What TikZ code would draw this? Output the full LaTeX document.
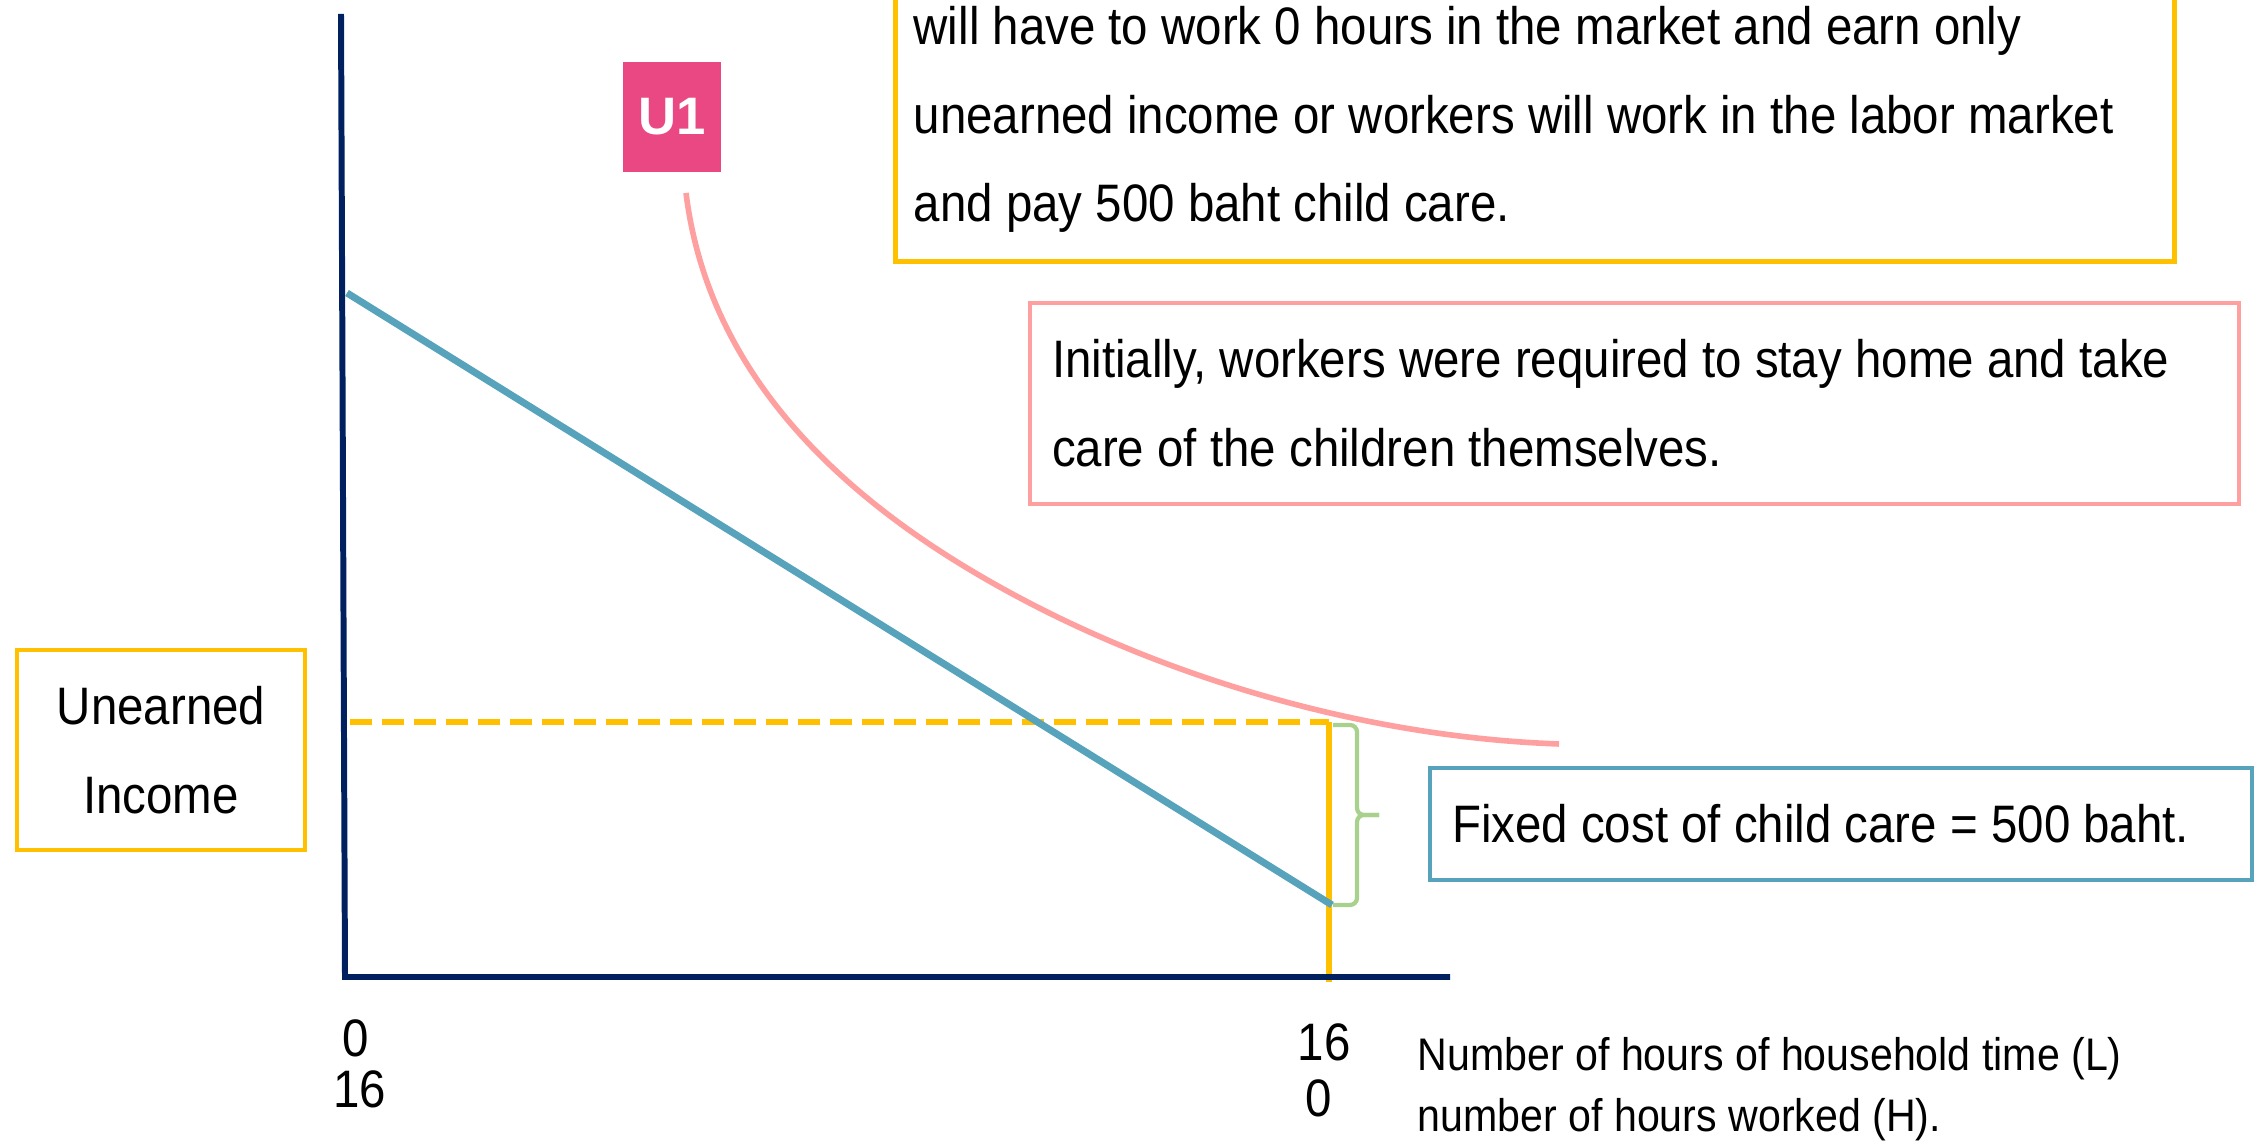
\documentclass[tikz,border=0pt]{standalone}
\usepackage{fontspec}
\setmainfont{Liberation Sans}[FakeStretch=0.9]
\newfontfamily\uonefont{Liberation Sans}
\usetikzlibrary{positioning}

\definecolor{axisnavy}{HTML}{002060}
\definecolor{budgetblue}{HTML}{57A3BC}
\definecolor{careorange}{HTML}{FFC000}
\definecolor{curvepink}{HTML}{FFA0A0}
\definecolor{tagpink}{HTML}{EA4882}
\definecolor{bracegreen}{HTML}{A9D18E}

\begin{document}
\begin{tikzpicture}
\tikzset{
  notetext/.style={font=\fontsize{15}{25.3}\selectfont, align=left, inner sep=0pt,
    execute at begin node={\spaceskip=0pt\relax}},
  note/.style={notetext, draw=#1, line width=1.4pt, inner xsep=0.22cm, inner ysep=0pt},
  ticklabel/.style={font=\fontsize{15}{18}\selectfont, inner sep=0pt, anchor=base},
  axis/.style={axisnavy, line width=1.7pt},
  budget/.style={budgetblue, line width=2pt},
  care/.style={careorange, line width=1.9pt},
  costbrace/.style={bracegreen, line width=1.2pt, rounded corners=0.07cm}
}
\useasboundingbox (0,0) rectangle (22.55,11.47);
\clip (0,0) rectangle (22.55,11.47);

\coordinate (O) at (3.45,1.70);
\coordinate (ytop) at (3.41,11.33);
\coordinate (xend) at (14.50,1.70);
\coordinate (bstart) at (3.47,8.54);
\coordinate (bend) at (13.32,2.42);
\coordinate (udash) at (3.50,4.25);
\coordinate (kink) at (13.29,4.25);
\coordinate (kbase) at (13.29,1.65);
\coordinate (bt) at (13.33,4.22);
\coordinate (bb) at (13.33,2.42);
\coordinate (bstem) at (13.57,3.32);
\coordinate (btip) at (13.79,3.32);
\coordinate (ustart) at (6.86,9.54);
\coordinate (umid) at (10.07,5.56);
\coordinate (uend) at (15.59,4.03);

\draw[care, dash pattern=on 6.3pt off 2.8pt] (udash) -- (kink);
\draw[care] (kink) -- (kbase);
\draw[axis] (ytop) -- (O) -- (xend);
\draw[budget] (bstart) -- (bend);
\draw[costbrace] (bt) -| (bstem) -- (btip);
\draw[costbrace] (btip) -- (bstem) |- (bb);
\draw[curvepink, line width=1.6pt] (ustart) .. controls (7.1,7.6) and (8.6,6.364) .. (umid)
  .. controls (11.6,4.72) and (13.6,4.1) .. (uend);

\node[fill=tagpink, text=white, font=\uonefont\bfseries\fontsize{15}{18}\selectfont,
  minimum width=0.98cm, minimum height=1.10cm, inner sep=0pt] (uone) at (6.72,10.30) {U1};

\node[note=careorange, minimum width=12.79cm, minimum height=3.6cm, anchor=south west] (topframe) at (8.93,8.83) {};
\node[notetext, anchor=base west] (toptext) at (9.13,9.25)
  {will have to work 0 hours in the market and earn only\\
   unearned income or workers will work in the labor market\\
   and pay 500 baht child care.};

\node[note=curvepink, text width=11.65cm, minimum height=2.01cm] (initnote) at (16.345,7.435)
  {Initially, workers were required to stay home and take\\care of the children themselves.};
\node[note=budgetblue, text width=7.78cm, minimum height=1.12cm] (costnote) at (18.41,3.23)
  {Fixed cost of child care = 500 baht.};
\node[note=careorange, align=center, text width=2.44cm, minimum height=2.0cm] (incnote) at (1.61,3.97)
  {Unearned\\Income};

\node[ticklabel] (lzero) at (3.555,0.90) {0};
\node[ticklabel] (lsixteen) at (3.595,0.39) {16};
\node[ticklabel] (hsixteen) at (13.24,0.86) {16};
\node[ticklabel] (hzero) at (13.19,0.30) {0};
\node[notetext, font=\fontsize{13}{17.6}\selectfont, anchor=base west] (xlabel) at (14.17,0.15)
  {Number of hours of household time (L)\\number of hours worked (H).};
\end{tikzpicture}
\end{document}
